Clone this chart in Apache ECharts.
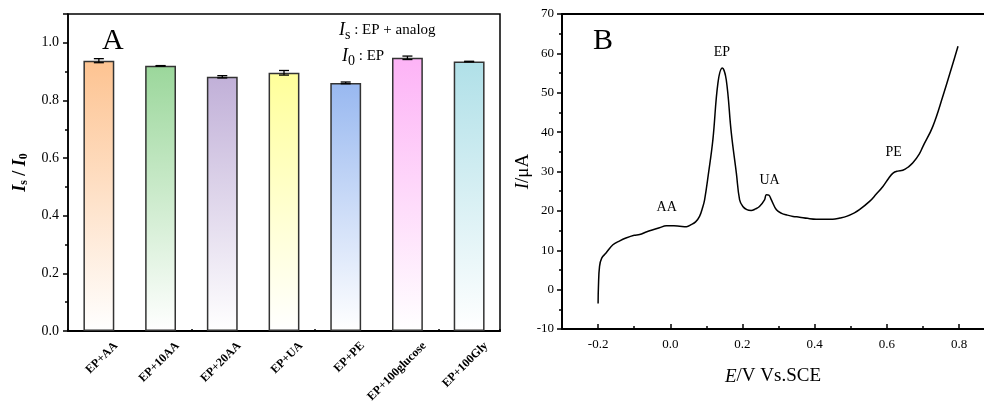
<!DOCTYPE html>
<html>
<head>
<meta charset="utf-8">
<script src="https://cdn.jsdelivr.net/npm/echarts@6/dist/echarts.min.js"></script>
<style>
    html, body { margin: 0; padding: 0; background: #fff; }
    #main { width: 984px; height: 404px; }
</style>
</head>
<body>
<div id="main"></div>
<script>
// panel A: selectivity, Is / I0
var categories = ['EP+AA', 'EP+10AA', 'EP+20AA', 'EP+UA', 'EP+PE', 'EP+100glucose', 'EP+100Gly'];
var ratio = [0.938, 0.920, 0.882, 0.896, 0.861, 0.948, 0.935];
var ratioErr = [0.007, 0.001, 0.004, 0.008, 0.003, 0.006, 0.001];
var barColors = ['#fdc391', '#9bd79b', '#c1b0d8', '#ffff9a', '#98b8f0', '#fdb3f6', '#b0e0e8'];

// panel B: DPV curve
var potential = [-0.2, -0.199, -0.196, -0.19, -0.178, -0.159, -0.14, -0.123, -0.1, -0.085,
    -0.065, -0.048, -0.03, -0.011, 0.01, 0.026, 0.045, 0.058, 0.07, 0.081,
    0.09, 0.095, 0.105, 0.118, 0.132, 0.144, 0.155, 0.169, 0.183, 0.192,
    0.201, 0.212, 0.224, 0.236, 0.247, 0.261, 0.266, 0.273, 0.280, 0.294,
    0.31, 0.321, 0.34, 0.358, 0.38, 0.404, 0.43, 0.45, 0.47, 0.488,
    0.51, 0.524, 0.552, 0.57, 0.589, 0.605, 0.617, 0.63, 0.644, 0.66,
    0.672, 0.69, 0.70, 0.727, 0.755, 0.783, 0.797];
var current = [-3.5, 1, 5.9, 8, 9.3, 11.4, 12.4, 13.1, 13.8, 14.0,
    14.7, 15.2, 15.7, 16.2, 16.2, 16.1, 16.0, 16.5, 17.2, 18.6,
    21, 22.8, 29, 38.1, 52.5, 56.3, 53.3, 39.8, 29.6, 22.8,
    21.1, 20.3, 20.1, 20.5, 21.1, 22.8, 24.1, 24.0, 22.8, 20.3,
    19.3, 19.0, 18.6, 18.4, 18.1, 17.9, 17.9, 17.9, 18.2, 18.6,
    19.5, 20.3, 22.4, 24.2, 26.2, 28.3, 29.6, 30.1, 30.3, 31.2,
    32.2, 34.5, 36.4, 41.4, 49.1, 57.5, 61.8];
var eTicks = [-0.2, 0, 0.2, 0.4, 0.6, 0.8];
var eMinorTicks = [-0.1, 0.1, 0.3, 0.5, 0.7];

var FONT = 'Liberation Serif';

var myChart = echarts.init(document.getElementById('main'));

var barData = ratio.map(function(v, i) {
    return {
        value: v,
        itemStyle: {
            color: new echarts.graphic.LinearGradient(0, 0, 0, 1, [
                { offset: 0, color: barColors[i] },
                { offset: 1, color: '#ffffff' }
            ])
        }
    };
});
var errData = ratio.map(function(v, i) {
    return [i, v - ratioErr[i], v + ratioErr[i]];
});
var curveData = potential.map(function(e, i) {
    return [e, current[i]];
});

var legendRich = {
    i: { fontFamily: FONT, fontStyle: 'italic', fontWeight: 'normal', fontSize: 18, color: '#000' },
    sub: { fontFamily: FONT, fontWeight: 'normal', fontSize: 14, color: '#000', padding: [9, 0, 0, 0] },
    n: { fontFamily: FONT, fontWeight: 'normal', fontSize: 15, color: '#000' }
};

var option = {
    backgroundColor: '#fff',
    animation: false,
    title: [
        { text: 'A', left: 97, top: 21, textStyle: { fontFamily: FONT, fontSize: 30, fontWeight: 'normal', color: '#000' } },
        { text: 'B', left: 588, top: 21, textStyle: { fontFamily: FONT, fontSize: 30, fontWeight: 'normal', color: '#000' } },
        { text: '{i|I}{sub|s}{n| : EP + analog}', left: 334, top: 14, textStyle: { fontWeight: 'normal', rich: legendRich } },
        { text: '{i|I}{sub|0}{n| : EP}', left: 337, top: 40, textStyle: { fontWeight: 'normal', rich: legendRich } }
    ],
    grid: [
        { left: 68, top: 14, width: 432, height: 317, outerBoundsMode: 'none', show: true, borderColor: '#000', borderWidth: 1.5, backgroundColor: 'transparent' },
        { left: 562, top: 14, right: 0, height: 315, outerBoundsMode: 'none' }
    ],
    xAxis: [
        {
            gridIndex: 0,
            type: 'category',
            data: categories,
            axisLine: { lineStyle: { color: '#000', width: 2 } },
            axisTick: { show: true, inside: true, alignWithLabel: true, length: 5, lineStyle: { color: '#000', width: 1.5 } },
            axisLabel: {
                rotate: 45, margin: -4, interval: 0,
                align: 'right', verticalAlign: 'top', lineHeight: 48,
                fontFamily: FONT, fontWeight: 'bold', fontSize: 12, color: '#000'
            }
        },
        {
            // small ticks between the bars
            gridIndex: 0,
            type: 'category',
            data: categories,
            position: 'bottom',
            axisLine: { show: false },
            axisTick: { show: true, inside: true, length: 2, lineStyle: { color: '#000', width: 1.5 } },
            axisLabel: { show: false }
        },
        {
            gridIndex: 1,
            type: 'value',
            min: -0.3,
            max: 0.869,
            splitLine: { show: false },
            axisLine: { onZero: false, lineStyle: { color: '#000', width: 2 } },
            axisTick: { show: true, inside: true, length: 5, customValues: eTicks, lineStyle: { color: '#000', width: 1.5 } },
            axisLabel: {
                customValues: eTicks, margin: 9,
                fontFamily: FONT, fontSize: 13, color: '#000',
                formatter: function(v) { return v.toFixed(1); }
            },
            name: '{i|E}{n|/V Vs.SCE}',
            nameLocation: 'middle',
            nameGap: 38,
            nameTextStyle: {
                rich: {
                    i: { fontFamily: FONT, fontStyle: 'italic', fontSize: 19, color: '#000' },
                    n: { fontFamily: FONT, fontSize: 19, color: '#000' }
                }
            }
        },
        {
            // minor ticks on E axis
            gridIndex: 1,
            type: 'value',
            min: -0.3,
            max: 0.869,
            position: 'bottom',
            splitLine: { show: false },
            axisLine: { show: false, onZero: false },
            axisTick: { show: true, inside: true, length: 3, customValues: eMinorTicks, lineStyle: { color: '#000', width: 1.5 } },
            axisLabel: { show: false }
        },
        {
            // top frame line of panel B
            gridIndex: 1,
            type: 'value',
            min: -0.3,
            max: 0.869,
            position: 'top',
            splitLine: { show: false },
            axisLine: { show: true, onZero: false, lineStyle: { color: '#000', width: 2 } },
            axisTick: { show: false },
            axisLabel: { show: false }
        }
    ],
    yAxis: [
        {
            gridIndex: 0,
            type: 'value',
            min: 0,
            max: 1.1,
            interval: 0.2,
            splitLine: { show: false },
            axisLine: { show: true, lineStyle: { color: '#000', width: 1.5 } },
            axisTick: { show: true, length: 5, lineStyle: { color: '#000', width: 1.5 } },
            minorTick: { show: true, splitNumber: 2, length: 3, lineStyle: { color: '#000', width: 1.5 } },
            axisLabel: {
                showMaxLabel: false, margin: 9,
                fontFamily: FONT, fontSize: 14, color: '#000',
                formatter: function(v) { return v.toFixed(1); }
            },
            name: '{i|I}{sub|s}{n| / }{i|I}{sub|0}',
            nameLocation: 'middle',
            nameGap: 38,
            nameTextStyle: {
                rich: {
                    i: { fontFamily: FONT, fontStyle: 'italic', fontWeight: 'bold', fontSize: 18, color: '#000' },
                    sub: { fontFamily: FONT, fontWeight: 'bold', fontSize: 12, color: '#000', padding: [8, 0, 0, 0] },
                    n: { fontFamily: FONT, fontWeight: 'bold', fontSize: 18, color: '#000' }
                }
            }
        },
        {
            gridIndex: 1,
            type: 'value',
            min: -10,
            max: 70,
            interval: 10,
            splitLine: { show: false },
            axisLine: { show: true, onZero: false, lineStyle: { color: '#000', width: 2 } },
            axisTick: { show: true, length: 5, lineStyle: { color: '#000', width: 1.5 } },
            minorTick: { show: true, splitNumber: 2, length: 3, lineStyle: { color: '#000', width: 1.5 } },
            axisLabel: { margin: 8, fontFamily: FONT, fontSize: 13, color: '#000' },
            name: '{i|I}{n|/μA}',
            nameLocation: 'middle',
            nameGap: 27,
            nameTextStyle: {
                rich: {
                    i: { fontFamily: FONT, fontStyle: 'italic', fontSize: 19, color: '#000' },
                    n: { fontFamily: FONT, fontSize: 19, color: '#000' }
                }
            }
        }
    ],
    series: [
        {
            name: 'ratio',
            type: 'bar',
            xAxisIndex: 0,
            yAxisIndex: 0,
            barWidth: '50%',
            data: barData,
            itemStyle: { borderColor: '#333', borderWidth: 1.5 }
        },
        {
            name: 'error',
            type: 'custom',
            xAxisIndex: 0,
            yAxisIndex: 0,
            z: 5,
            data: errData,
            renderItem: function(params, api) {
                var lo = api.coord([api.value(0), api.value(1)]);
                var hi = api.coord([api.value(0), api.value(2)]);
                var hw = 5;
                var style = { stroke: '#000', lineWidth: 1.3 };
                return {
                    type: 'group',
                    children: [
                        { type: 'line', shape: { x1: lo[0], y1: lo[1], x2: hi[0], y2: hi[1] }, style: style },
                        { type: 'line', shape: { x1: lo[0] - hw, y1: lo[1], x2: lo[0] + hw, y2: lo[1] }, style: style },
                        { type: 'line', shape: { x1: hi[0] - hw, y1: hi[1], x2: hi[0] + hw, y2: hi[1] }, style: style }
                    ]
                };
            }
        },
        {
            name: 'DPV',
            type: 'line',
            xAxisIndex: 2,
            yAxisIndex: 1,
            data: curveData,
            smooth: 0.4,
            showSymbol: false,
            lineStyle: { color: '#000', width: 1.5 },
            markPoint: {
                symbol: 'circle',
                symbolSize: 0,
                label: { show: true, position: 'inside', formatter: '{b}', fontFamily: FONT, fontSize: 14, color: '#000' },
                data: [
                    { name: 'AA', coord: [-0.01, 21] },
                    { name: 'EP', coord: [0.143, 60.2] },
                    { name: 'UA', coord: [0.275, 27.7] },
                    { name: 'PE', coord: [0.619, 34.8] }
                ]
            }
        }
    ]
};

myChart.setOption(option);
</script>
</body>
</html>
